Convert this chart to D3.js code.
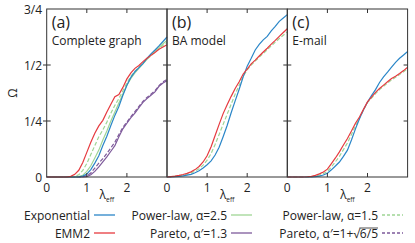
<!DOCTYPE html>
<meta charset="utf-8">
<title>Omega vs lambda_eff</title>
<style>
	body { margin: 0; background: #fff; }
	text { font-family: "Open Sans", sans-serif; fill: #222; }
	.frame { fill: none; stroke: #333; stroke-width: 1; }
	.tick { stroke: #333; stroke-width: 1; }
	.curve { fill: none; stroke-width: 1.2; }
</style>
<body>
<script src="https://d3js.org/d3.v7.min.js"></script>
<script>

var width = 415,
	height = 243;

var lambda = d3.range(0, 31).map(function(i) { return i / 10; });

// panel (a) complete graph
var aEMM2 = [0,0,0,0,0,0,0.003,0.012,0.03,0.065,0.11,0.155,0.195,0.228,0.253,0.29,0.325,0.358,0.368,0.40,0.438,0.465,0.485,0.498,0.515,0.53,0.543,0.556,0.57,0.58,0.59];
var aExp = [0,0,0,0,0,0,0,0,0.001,0.004,0.013,0.033,0.062,0.095,0.141,0.182,0.23,0.275,0.315,0.365,0.41,0.445,0.47,0.488,0.506,0.53,0.55,0.567,0.585,0.605,0.625];
var aPow25 = [0,0,0,0,0,0,0,0,0.002,0.008,0.025,0.05,0.085,0.12,0.165,0.205,0.25,0.29,0.33,0.37,0.41,0.44,0.465,0.485,0.505,0.525,0.545,0.562,0.578,0.595,0.61];
var aPow15 = [0,0,0,0,0,0,0,0.003,0.01,0.03,0.06,0.1,0.14,0.18,0.21,0.245,0.285,0.32,0.35,0.385,0.42,0.45,0.472,0.49,0.508,0.525,0.542,0.558,0.572,0.588,0.6];
var aPar13 = [0,0,0,0,0,0,0,0,0,0,0.002,0.01,0.025,0.045,0.067,0.09,0.115,0.14,0.18,0.215,0.24,0.265,0.285,0.31,0.333,0.35,0.365,0.38,0.405,0.42,0.43];
var aParSq = [0,0,0,0,0,0,0,0,0,0.002,0.006,0.018,0.04,0.062,0.082,0.105,0.13,0.155,0.19,0.222,0.245,0.27,0.292,0.315,0.338,0.355,0.37,0.385,0.408,0.425,0.435];

// panel (b) BA model
var bEMM2 = [0,0.002,0.004,0.007,0.011,0.016,0.023,0.033,0.047,0.067,0.095,0.135,0.185,0.235,0.283,0.322,0.36,0.395,0.425,0.46,0.482,0.505,0.522,0.54,0.558,0.575,0.593,0.61,0.628,0.645,0.662];
var bExp = [0,0.001,0.002,0.003,0.005,0.008,0.012,0.019,0.028,0.04,0.055,0.072,0.098,0.133,0.18,0.23,0.287,0.34,0.392,0.447,0.495,0.53,0.567,0.592,0.612,0.628,0.652,0.672,0.695,0.71,0.725];
var bPow15 = [0,0.001,0.003,0.005,0.008,0.012,0.018,0.026,0.037,0.053,0.075,0.105,0.145,0.19,0.235,0.28,0.325,0.37,0.41,0.45,0.478,0.5,0.517,0.535,0.552,0.568,0.585,0.602,0.618,0.633,0.648];

// panel (c) e-mail
var cEMM2 = [0,0,0,0,0,0.001,0.003,0.007,0.014,0.022,0.035,0.06,0.085,0.112,0.143,0.172,0.205,0.24,0.268,0.302,0.335,0.357,0.378,0.395,0.41,0.425,0.44,0.45,0.462,0.475,0.49];
var cExp = [0,0,0,0,0,0,0.001,0.002,0.004,0.009,0.017,0.032,0.049,0.067,0.092,0.12,0.165,0.215,0.26,0.3,0.335,0.363,0.39,0.422,0.447,0.468,0.49,0.512,0.53,0.545,0.56];
var cPow15 = [0,0,0,0,0,0,0.001,0.004,0.008,0.015,0.025,0.045,0.068,0.092,0.122,0.152,0.19,0.228,0.262,0.3,0.332,0.352,0.372,0.39,0.405,0.42,0.433,0.445,0.457,0.47,0.483];

var yTicks = [0, 0.25, 0.5, 0.75];
var yTickLabels = ["0", "1/4", "1/2", "3/4"];
var xTicks = [0, 1, 2];

var colors = {exp: "#2a86c8", emm: "#e63a3f", pow25: "#9fd595", pow15: "#9fd595", par13: "#7e5a9b", parsq: "#7e5a9b"};

var panels = [
	{tag: "(a)", name: "Complete graph", x0: 46.7, series: [
		{v: aPar13, c: colors.par13}, {v: aParSq, c: colors.parsq, dash: "4,2"},
		{v: aPow25, c: colors.pow25}, {v: aPow15, c: colors.pow15, dash: "4,2"},
		{v: aExp, c: colors.exp}, {v: aEMM2, c: colors.emm}]},
	{tag: "(b)", name: "BA model", x0: 167, series: [
		{v: bPow15, c: colors.pow15, dash: "4,2"},
		{v: bExp, c: colors.exp}, {v: bEMM2, c: colors.emm}]},
	{tag: "(c)", name: "E-mail", x0: 287.3, series: [
		{v: cPow15, c: colors.pow15, dash: "4,2"},
		{v: cExp, c: colors.exp}, {v: cEMM2, c: colors.emm}]}
];

var pw = 120.3, plotTop = 9, plotBottom = 177;
var fs = "12px";

var svg = d3.select("body").append("svg")
	.attr("width", width)
	.attr("height", height);

var y = d3.scaleLinear().domain([0, 0.75]).range([plotBottom, plotTop]);

panels.forEach(function(p, pi) {
	var x = d3.scaleLinear().domain([0, 3]).range([p.x0, p.x0 + pw]);
	var g = svg.append("g");
	var line = d3.line()
		.x(function(d, i) { return x(lambda[i]); })
		.y(function(d) { return y(d); });

	p.series.forEach(function(s) {
		g.append("path").attr("class", "curve")
			.attr("d", line(s.v))
			.attr("stroke", s.c)
			.attr("stroke-dasharray", s.dash || null);
	});

	g.append("rect").attr("class", "frame")
		.attr("x", x(0)).attr("y", plotTop)
		.attr("width", pw).attr("height", plotBottom - plotTop);

	// inward ticks
	[1, 2].forEach(function(t) {
		g.append("line").attr("class", "tick")
			.attr("x1", x(t)).attr("x2", x(t)).attr("y1", plotTop).attr("y2", plotTop + 4);
		g.append("line").attr("class", "tick")
			.attr("x1", x(t)).attr("x2", x(t)).attr("y1", plotBottom).attr("y2", plotBottom - 4);
	});
	[0.25, 0.5].forEach(function(t) {
		g.append("line").attr("class", "tick")
			.attr("x1", x(0)).attr("x2", x(0) + 4).attr("y1", y(t)).attr("y2", y(t));
		g.append("line").attr("class", "tick")
			.attr("x1", x(3)).attr("x2", x(3) - 4).attr("y1", y(t)).attr("y2", y(t));
	});

	xTicks.forEach(function(t) {
		g.append("text").attr("x", x(t)).attr("y", 191.5)
			.attr("text-anchor", "middle").style("font-size", fs).text(t);
	});

	var lab = g.append("text").attr("x", x(1.5)).attr("y", 198.5)
		.attr("text-anchor", "middle").style("font-size", fs);
	lab.append("tspan").text("λ");
	lab.append("tspan").attr("dy", 3).style("font-size", "6.5px").text("eff");

	g.append("text").attr("x", x(0) + 5).attr("y", 28)
		.style("font-size", "16px").text(p.tag);
	g.append("text").attr("x", x(0) + 5).attr("y", 44.5)
		.style("font-size", fs).text(p.name);
});

yTicks.forEach(function(t, i) {
	svg.append("text").attr("x", 42).attr("y", y(t) + 4.5)
		.attr("text-anchor", "end").style("font-size", fs).text(yTickLabels[i]);
});
svg.append("line").attr("class", "tick").attr("x1", 43).attr("x2", 46.7).attr("y1", y(0.5)).attr("y2", y(0.5));
svg.append("line").attr("class", "tick").attr("x1", 43).attr("x2", 46.7).attr("y1", y(0.25)).attr("y2", y(0.25));

svg.append("text").attr("transform", "translate(17,93) rotate(-90)")
	.attr("text-anchor", "middle").style("font-size", fs).text("Ω");

// legend
var legend = [
	{label: "Exponential", c: colors.exp, xe: 90, row: 0},
	{label: "EMM2", c: colors.emm, xe: 90, row: 1},
	{label: "Power-law, α=2.5", c: colors.pow25, xe: 227, row: 0},
	{label: "Pareto, α′=1.3", c: colors.par13, xe: 227, row: 1},
	{label: "Power-law, α=1.5", c: colors.pow15, xe: 378, row: 0, dash: "3,2"},
	{label: "Pareto, α′=1+√6/5", c: colors.parsq, xe: 378, row: 1, dash: "3,2", bar: 3}
];
legend.forEach(function(d) {
	var ly = 215 + d.row * 18;
	var t = svg.append("text").attr("x", d.xe).attr("y", ly + 4.5)
		.attr("text-anchor", "end").style("font-size", fs)
		.text(d.label);
	if (d.bar) {
		// radical bar over the last characters
		var n = d.label.length;
		var w = t.node().getSubStringLength(n - d.bar, d.bar);
		svg.append("line").attr("x1", d.xe - w - 0.5).attr("x2", d.xe)
			.attr("y1", ly - 5).attr("y2", ly - 5)
			.attr("stroke", "#222").attr("stroke-width", 0.8);
	}
	svg.append("line").attr("x1", d.xe + 4).attr("x2", d.xe + 25)
		.attr("y1", ly).attr("y2", ly)
		.attr("stroke", d.c).attr("stroke-width", 1.3)
		.attr("stroke-dasharray", d.dash || null);
});

</script>
